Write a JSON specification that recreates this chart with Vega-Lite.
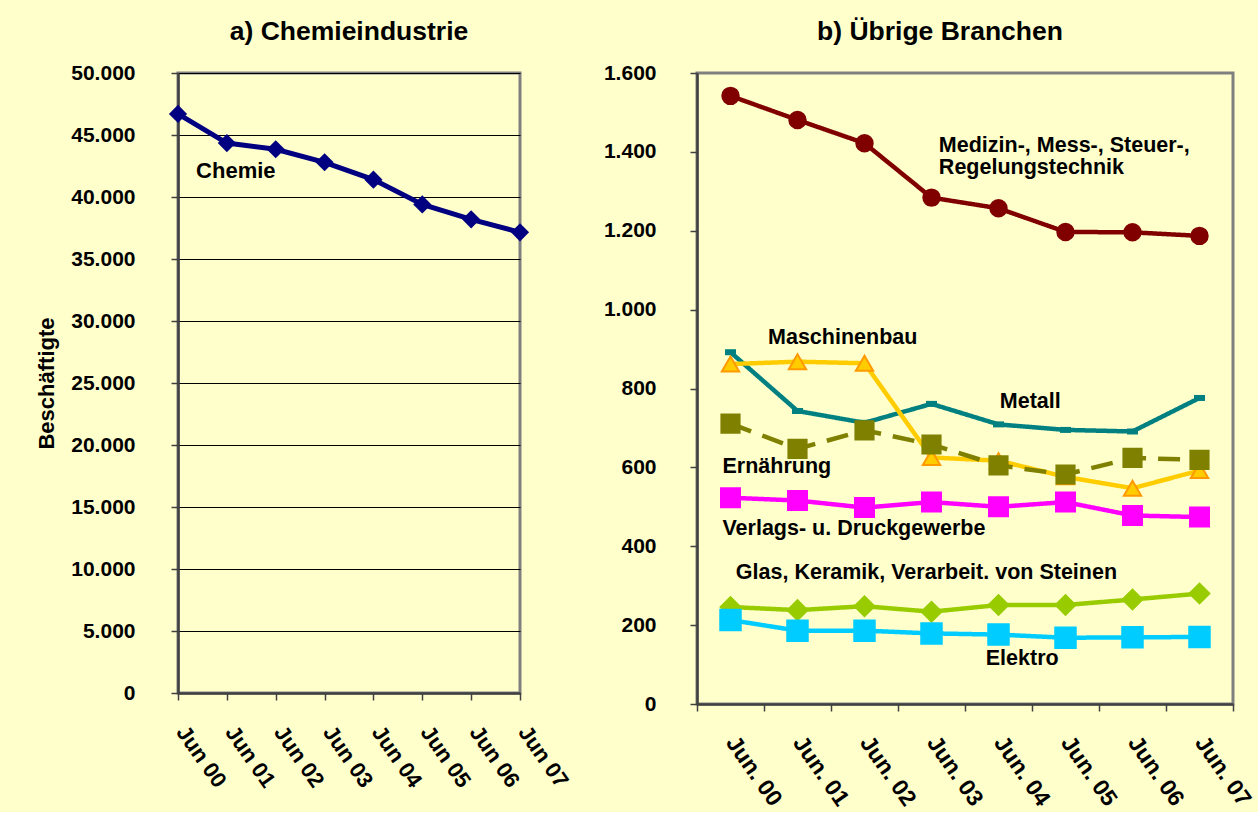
{
  "$schema": "https://vega.github.io/schema/vega-lite/v6.json",
  "background": "#FFFFCC",
  "padding": {"left": 34, "top": 17, "right": 2, "bottom": 0},
  "spacing": 27,
  "config": {
    "locale": {"number": {"decimal": ",", "thousands": ".", "grouping": [3], "currency": ["", " €"]}},
    "font": "Liberation Sans",
    "view": {"stroke": "#808080", "strokeWidth": 3},
    "axis": {
      "labelFont": "Liberation Sans", "labelFontSize": 21, "labelFontWeight": "bold", "labelColor": "#000000",
      "titleFont": "Liberation Sans", "titleFontSize": 22, "titleFontWeight": "bold", "titleColor": "#000000",
      "domainColor": "#404040", "domainWidth": 2.5, "tickColor": "#404040", "tickWidth": 1.5, "tickSize": 7
    },
    "title": {"font": "Liberation Sans", "fontSize": 26.5, "fontWeight": "bold", "color": "#000000", "anchor": "middle"},
    "text": {"font": "Liberation Sans", "fontWeight": "bold", "color": "#000000"}
  },
  "hconcat": [
    {
      "width": 342,
      "height": 620,
      "title": {"text": "a) Chemieindustrie", "offset": 17},
      "layer": [
        {
          "data": {"values": [
            {"Monat": "Jun 00", "Beschäftigte": 46700},
            {"Monat": "Jun 01", "Beschäftigte": 44350},
            {"Monat": "Jun 02", "Beschäftigte": 43850},
            {"Monat": "Jun 03", "Beschäftigte": 42800},
            {"Monat": "Jun 04", "Beschäftigte": 41400},
            {"Monat": "Jun 05", "Beschäftigte": 39400},
            {"Monat": "Jun 06", "Beschäftigte": 38200},
            {"Monat": "Jun 07", "Beschäftigte": 37150}
          ]},
          "mark": {"type": "line", "color": "#000080", "strokeWidth": 5,
                   "point": {"shape": "diamond", "size": 330, "filled": true, "color": "#000080"}},
          "encoding": {
            "x": {"field": "Monat", "type": "ordinal", "sort": null,
                  "scale": {"type": "point", "padding": 0},
                  "axis": {"title": null, "labelAngle": 55, "labelAlign": "left", "labelBaseline": "top", "labelPadding": 22, "labelOffset": 11, "labelFontSize": 22, "grid": false}},
            "y": {"field": "Beschäftigte", "type": "quantitative",
                  "scale": {"domain": [0, 50000], "nice": false},
                  "axis": {"title": "Beschäftigte", "titlePadding": 12, "values": [0, 5000, 10000, 15000, 20000, 25000, 30000, 35000, 40000, 45000, 50000],
                           "format": ",d", "labelPadding": 36, "grid": true, "gridColor": "#000000", "gridWidth": 1, "gridOpacity": 1}}
          }
        },
        {
          "data": {"values": [{"Text": "Chemie", "pos": 0.37, "Beschäftigte": 42100}]},
          "mark": {"type": "text", "align": "left", "baseline": "middle", "fontSize": 22},
          "encoding": {
            "x": {"field": "pos", "type": "quantitative", "scale": {"domain": [0, 7], "nice": false, "zero": false}, "axis": null},
            "y": {"field": "Beschäftigte", "type": "quantitative"},
            "text": {"field": "Text"}
          }
        }
      ],
      "resolve": {"scale": {"x": "independent"}}
    },
    {
      "width": 536,
      "height": 631,
      "title": {"text": "b) Übrige Branchen", "offset": 17, "dx": -25},
      "layer": [
        {
          "data": {"values": [
            {"Monat": "Jun. 00", "Branche": "MSR", "Wert": 1542},
            {"Monat": "Jun. 01", "Branche": "MSR", "Wert": 1481},
            {"Monat": "Jun. 02", "Branche": "MSR", "Wert": 1422},
            {"Monat": "Jun. 03", "Branche": "MSR", "Wert": 1284},
            {"Monat": "Jun. 04", "Branche": "MSR", "Wert": 1257},
            {"Monat": "Jun. 05", "Branche": "MSR", "Wert": 1197},
            {"Monat": "Jun. 06", "Branche": "MSR", "Wert": 1196},
            {"Monat": "Jun. 07", "Branche": "MSR", "Wert": 1187},
            {"Monat": "Jun. 00", "Branche": "Metall", "Wert": 892},
            {"Monat": "Jun. 01", "Branche": "Metall", "Wert": 743},
            {"Monat": "Jun. 02", "Branche": "Metall", "Wert": 713},
            {"Monat": "Jun. 03", "Branche": "Metall", "Wert": 761},
            {"Monat": "Jun. 04", "Branche": "Metall", "Wert": 709},
            {"Monat": "Jun. 05", "Branche": "Metall", "Wert": 695},
            {"Monat": "Jun. 06", "Branche": "Metall", "Wert": 691},
            {"Monat": "Jun. 07", "Branche": "Metall", "Wert": 776},
            {"Monat": "Jun. 00", "Branche": "Maschinenbau", "Wert": 862},
            {"Monat": "Jun. 01", "Branche": "Maschinenbau", "Wert": 868},
            {"Monat": "Jun. 02", "Branche": "Maschinenbau", "Wert": 864},
            {"Monat": "Jun. 03", "Branche": "Maschinenbau", "Wert": 625},
            {"Monat": "Jun. 04", "Branche": "Maschinenbau", "Wert": 617},
            {"Monat": "Jun. 05", "Branche": "Maschinenbau", "Wert": 576},
            {"Monat": "Jun. 06", "Branche": "Maschinenbau", "Wert": 547},
            {"Monat": "Jun. 07", "Branche": "Maschinenbau", "Wert": 592},
            {"Monat": "Jun. 00", "Branche": "Ernährung", "Wert": 711},
            {"Monat": "Jun. 01", "Branche": "Ernährung", "Wert": 647},
            {"Monat": "Jun. 02", "Branche": "Ernährung", "Wert": 694},
            {"Monat": "Jun. 03", "Branche": "Ernährung", "Wert": 658},
            {"Monat": "Jun. 04", "Branche": "Ernährung", "Wert": 605},
            {"Monat": "Jun. 05", "Branche": "Ernährung", "Wert": 582},
            {"Monat": "Jun. 06", "Branche": "Ernährung", "Wert": 624},
            {"Monat": "Jun. 07", "Branche": "Ernährung", "Wert": 619},
            {"Monat": "Jun. 00", "Branche": "Verlags- u. Druckgewerbe", "Wert": 523},
            {"Monat": "Jun. 01", "Branche": "Verlags- u. Druckgewerbe", "Wert": 516},
            {"Monat": "Jun. 02", "Branche": "Verlags- u. Druckgewerbe", "Wert": 498},
            {"Monat": "Jun. 03", "Branche": "Verlags- u. Druckgewerbe", "Wert": 512},
            {"Monat": "Jun. 04", "Branche": "Verlags- u. Druckgewerbe", "Wert": 500},
            {"Monat": "Jun. 05", "Branche": "Verlags- u. Druckgewerbe", "Wert": 512},
            {"Monat": "Jun. 06", "Branche": "Verlags- u. Druckgewerbe", "Wert": 478},
            {"Monat": "Jun. 07", "Branche": "Verlags- u. Druckgewerbe", "Wert": 474},
            {"Monat": "Jun. 00", "Branche": "Glas, Keramik", "Wert": 246},
            {"Monat": "Jun. 01", "Branche": "Glas, Keramik", "Wert": 238},
            {"Monat": "Jun. 02", "Branche": "Glas, Keramik", "Wert": 248},
            {"Monat": "Jun. 03", "Branche": "Glas, Keramik", "Wert": 234},
            {"Monat": "Jun. 04", "Branche": "Glas, Keramik", "Wert": 251},
            {"Monat": "Jun. 05", "Branche": "Glas, Keramik", "Wert": 251},
            {"Monat": "Jun. 06", "Branche": "Glas, Keramik", "Wert": 265},
            {"Monat": "Jun. 07", "Branche": "Glas, Keramik", "Wert": 280},
            {"Monat": "Jun. 00", "Branche": "Elektro", "Wert": 213},
            {"Monat": "Jun. 01", "Branche": "Elektro", "Wert": 186},
            {"Monat": "Jun. 02", "Branche": "Elektro", "Wert": 186},
            {"Monat": "Jun. 03", "Branche": "Elektro", "Wert": 179},
            {"Monat": "Jun. 04", "Branche": "Elektro", "Wert": 176},
            {"Monat": "Jun. 05", "Branche": "Elektro", "Wert": 168},
            {"Monat": "Jun. 06", "Branche": "Elektro", "Wert": 169},
            {"Monat": "Jun. 07", "Branche": "Elektro", "Wert": 170}
          ]},
          "encoding": {
            "x": {"field": "Monat", "type": "ordinal", "sort": null, "bandPosition": 0.5,
                  "scale": {"type": "band", "paddingInner": 0, "paddingOuter": 0},
                  "axis": {"title": null, "tickBand": "extent", "labelAngle": 55, "labelAlign": "left", "labelBaseline": "top", "labelPadding": 21, "labelOffset": 9, "labelFontSize": 23, "grid": false}},
            "y": {"field": "Wert", "type": "quantitative",
                  "scale": {"domain": [0, 1600], "nice": false},
                  "axis": {"title": null, "values": [0, 200, 400, 600, 800, 1000, 1200, 1400, 1600], "format": ",d", "labelPadding": 34, "grid": false}}
          },
          "layer": [
            {
              "mark": {"type": "line", "strokeWidth": 4.5},
              "encoding": {
                "color": {"field": "Branche", "type": "nominal", "legend": null,
                          "scale": {"domain": ["MSR", "Metall", "Maschinenbau", "Ernährung", "Verlags- u. Druckgewerbe", "Glas, Keramik", "Elektro"],
                                    "range": ["#800000", "#008080", "#FFCC00", "#808000", "#FF00FF", "#99CC00", "#00CCFF"]}},
                "strokeDash": {"field": "Branche", "type": "nominal", "legend": null,
                               "scale": {"domain": ["MSR", "Metall", "Maschinenbau", "Ernährung", "Verlags- u. Druckgewerbe", "Glas, Keramik", "Elektro"],
                                         "range": [[1, 0], [1, 0], [1, 0], [22, 12], [1, 0], [1, 0], [1, 0]]}}
              }
            },
            {
              "transform": [{"filter": "datum.Branche === 'Metall'"}],
              "mark": {"type": "point", "shape": "stroke", "filled": false, "color": "#008080", "strokeWidth": 6, "size": 120, "opacity": 1}
            },
            {
              "transform": [{"filter": "datum.Branche !== 'Metall'"}],
              "mark": {"type": "point", "filled": true, "strokeWidth": 2, "opacity": 1},
              "encoding": {
                "shape": {"field": "Branche", "type": "nominal", "legend": null,
                          "scale": {"domain": ["MSR", "Maschinenbau", "Ernährung", "Verlags- u. Druckgewerbe", "Glas, Keramik", "Elektro"],
                                    "range": ["circle", "triangle-up", "square", "square", "diamond", "square"]}},
                "fill": {"field": "Branche", "type": "nominal", "legend": null,
                         "scale": {"domain": ["MSR", "Maschinenbau", "Ernährung", "Verlags- u. Druckgewerbe", "Glas, Keramik", "Elektro"],
                                   "range": ["#800000", "#FFCC00", "#808000", "#FF00FF", "#99CC00", "#00CCFF"]}},
                "stroke": {"field": "Branche", "type": "nominal", "legend": null,
                           "scale": {"domain": ["MSR", "Maschinenbau", "Ernährung", "Verlags- u. Druckgewerbe", "Glas, Keramik", "Elektro"],
                                     "range": ["#800000", "#FF9900", "#808000", "#FF00FF", "#99CC00", "#00CCFF"]}},
                "size": {"field": "Branche", "type": "ordinal", "legend": null,
                         "scale": {"domain": ["MSR", "Maschinenbau", "Ernährung", "Verlags- u. Druckgewerbe", "Glas, Keramik", "Elektro"],
                                   "range": [270, 420, 170, 330, 320, 170]}}
              }
            }
          ]
        },
        {
          "data": {"values": [
            {"Text": "Medizin-, Mess-, Steuer-,", "pos": 3.11, "Wert": 1415},
            {"Text": "Regelungstechnik", "pos": 3.11, "Wert": 1359},
            {"Text": "Maschinenbau", "pos": 0.56, "Wert": 929},
            {"Text": "Metall", "pos": 4.02, "Wert": 765},
            {"Text": "Ernährung", "pos": -0.12, "Wert": 602},
            {"Text": "Verlags- u. Druckgewerbe", "pos": -0.12, "Wert": 443},
            {"Text": "Glas, Keramik, Verarbeit. von Steinen", "pos": 0.08, "Wert": 332},
            {"Text": "Elektro", "pos": 3.81, "Wert": 114}
          ]},
          "mark": {"type": "text", "align": "left", "baseline": "middle", "fontSize": 21.5},
          "encoding": {
            "x": {"field": "pos", "type": "quantitative", "scale": {"domain": [-0.5, 7.5], "nice": false, "zero": false}, "axis": null},
            "y": {"field": "Wert", "type": "quantitative"},
            "text": {"field": "Text"}
          }
        }
      ],
      "resolve": {"scale": {"x": "independent"}}
    }
  ]
}
